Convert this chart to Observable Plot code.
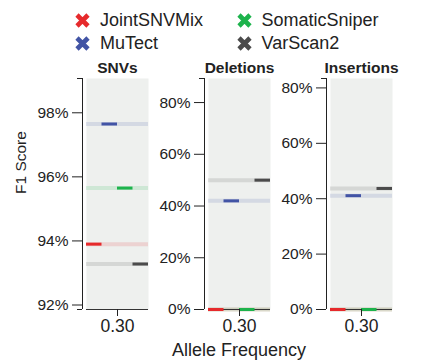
<!DOCTYPE html>
<html><head><meta charset="utf-8">
<script src="https://cdn.jsdelivr.net/npm/d3@7"></script>
<script src="https://cdn.jsdelivr.net/npm/@observablehq/plot@0.6"></script>
<style>
body{margin:0;background:#fff;font-family:"Liberation Sans",Arial,Helvetica,sans-serif;color:#222;}
#wrap{width:426px;height:360px;position:relative;overflow:hidden;}
.item{position:absolute;display:flex;align-items:center;font-size:18px;height:22px;white-space:nowrap;}
.item svg{width:17px;height:17px;margin-right:9px;display:block;}
#row{position:absolute;left:0;top:55px;display:flex;}
#row svg{display:block;}
#xlabel{position:absolute;left:86px;width:306px;top:340px;height:20px;line-height:20px;text-align:center;font-size:18px;}
</style></head><body>
<div id="wrap"><div id="legend"></div><div id="row"></div><div id="xlabel">Allele Frequency</div></div>
<script>
const methods = ["JointSNVMix", "MuTect", "SomaticSniper", "VarScan2"];
const colors = ["#e62a2c", "#4254a5", "#1db34c", "#4b4b4b"];
const alleleFrequency = 0.30;
const panels = ["SNVs", "Deletions", "Insertions"];
const yLabel = "F1 Score";
const snvF1 = [0.9390, 0.9765, 0.9565, 0.9328];
const deletionF1 = [0.000, 0.420, 0.000, 0.500];
const insertionF1 = [0.000, 0.411, 0.000, 0.437];
const snvTicks = [0.92, 0.94, 0.96, 0.98];
const indelTicks = [0, 0.2, 0.4, 0.6, 0.8];
const snvDomain = [0.9186, 0.9907];
const deletionDomain = [0, 0.893];
const insertionDomain = [0, 0.834];

const font = '"Liberation Sans", Arial, Helvetica, sans-serif';

function panel(title, values, ticks, domain, first) {
  const data = methods.map((m, i) => ({method: m, i, af: alleleFrequency, f1: values[i]}));
  const half = 0.05;
  const step = 2 * half / methods.length;
  return Plot.plot({
    width: first ? 150 : 122,
    height: 285,
    marginLeft: first ? 86 : 58,
    marginRight: 2,
    marginTop: 23,
    marginBottom: 31,
    style: {fontFamily: font, color: "#222", background: "transparent", overflow: "visible"},
    x: {domain: [alleleFrequency - half, alleleFrequency + half]},
    y: {domain},
    color: {domain: methods, range: colors},
    marks: [
      Plot.frame({fill: "#eef0ee"}),
      Plot.ruleY(data, {y: "f1", stroke: "method", strokeOpacity: 0.15, strokeWidth: 4}),
      Plot.ruleY([domain[0]], {stroke: "#333", strokeWidth: 1.2}),
      Plot.ruleY(data, {y: "f1", x1: d => d.af - half + d.i * step, x2: d => d.af - half + (d.i + 1) * step, stroke: "method", strokeWidth: 3}),
      Plot.ruleX([alleleFrequency - half], {dx: -4, stroke: "#222"}),
      Plot.axisY({ticks, tickFormat: d3.format(".0%"), tickSize: 10, tickPadding: 4, dx: -4, fontSize: 15.5, label: null}),
      Plot.axisY({ticks: domain, tickFormat: () => "", tickSize: 5, dx: -4, label: null}),
      Plot.axisX({ticks: [alleleFrequency], tickFormat: d3.format(".2f"), tickSize: 7, fontSize: 17.5, label: null}),
      Plot.text([title], {frameAnchor: "top", lineAnchor: "middle", dy: -10.5, fontWeight: "bold", fontSize: 15.5}),
      first ? Plot.text([yLabel], {frameAnchor: "left", rotate: -90, lineAnchor: "middle", dx: -65, fontSize: 15.5}) : null
    ]
  });
}

const row = document.getElementById("row");
row.appendChild(panel(panels[0], snvF1, snvTicks, snvDomain, true));
row.appendChild(panel(panels[1], deletionF1, indelTicks, deletionDomain, false));
row.appendChild(panel(panels[2], insertionF1, indelTicks, insertionDomain, false));

// legend
const legend = document.getElementById("legend");
const legendPos = [[74, 9], [74, 32], [235.5, 9], [235.5, 32]];
methods.forEach((m, i) => {
  const div = document.createElement("div");
  div.className = "item";
  div.style.left = legendPos[i][0] + "px";
  div.style.top = legendPos[i][1] + "px";
  div.innerHTML = `<svg viewBox="0 0 17 17"><path d="M3 3L14 14M14 3L3 14" stroke="${colors[i]}" stroke-width="4.6"/></svg><span>${m}</span>`;
  legend.appendChild(div);
});
</script>
</body></html>
